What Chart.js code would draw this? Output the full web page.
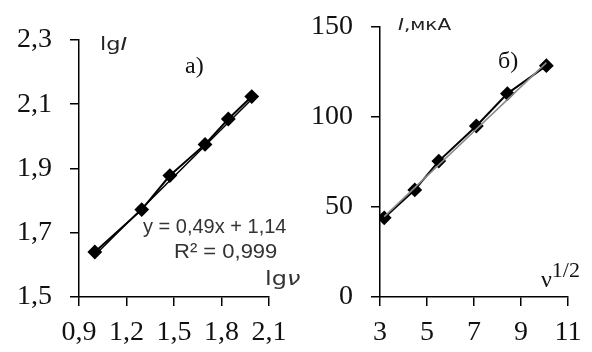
<!DOCTYPE html>
<html>
<head>
<meta charset="utf-8">
<script src="https://cdn.jsdelivr.net/npm/chart.js@4"></script>
<style>
  html, body { margin: 0; padding: 0; background: #fff; }
  #wrap { position: relative; width: 592px; height: 352px; overflow: hidden; background: #fff; }
  canvas { position: absolute; top: 0; }
  #chartA { left: 0; }
  #chartB { left: 300px; }
</style>
</head>
<body>
<div id="wrap">
  <canvas id="chartA" width="310" height="352"></canvas>
  <canvas id="chartB" width="292" height="352"></canvas>
</div>
<script>
// a) lg I vs lg v
const lgV = [1.0, 1.296, 1.474, 1.696, 1.843, 1.991];
const lgI = [1.64, 1.772, 1.878, 1.975, 2.054, 2.124];
const slopeA = 0.49;
const interceptA = 1.14;
const rSquaredA = 0.999;
const xTicksA = [0.9, 1.2, 1.5, 1.8, 2.1];
const yTicksA = [1.5, 1.7, 1.9, 2.1, 2.3];

// б) I vs v^1/2
const sqrtV = [3.18, 4.48, 5.5, 7.1, 8.42, 10.08];
const currentI = [44, 59.5, 75.5, 95, 113, 128.5];
const slopeB = 12.4;
const interceptB = 5.2;
const xTicksB = [3, 5, 7, 9, 11];
const yTicksB = [0, 50, 100, 150];

const serif = '"Liberation Serif", "Times New Roman", serif';
const sans = '"Liberation Sans", Arial, sans-serif';
const wide = '"DejaVu Sans", Verdana, sans-serif';
const comma = v => String(v).replace('.', ',');

function axis(pos, min, max, ticks, size) {
  return {
    type: 'linear',
    position: pos,
    min: min,
    max: max,
    afterBuildTicks: s => { s.ticks = ticks.map(v => ({ value: v })); },
    afterFit: s => {
      if (pos === 'left') {
        s.width = size;
        // label padding should not push the plot area down
        s.paddingTop = 0;
        s.paddingBottom = 0;
      } else {
        s.height = size;
      }
    },
    ticks: {
      color: '#111',
      font: { family: serif, size: 28 },
      padding: pos === 'left' ? 18 : 10,
      autoSkip: false,
      maxRotation: 0,
      callback: v => comma(v)
    },
    grid: { drawOnChartArea: false, drawTicks: true, tickLength: 9, color: '#000', lineWidth: 1.5 },
    border: { display: true, color: '#000', width: 1.5 }
  };
}

// free text (axis names, panel letters, trendline equation)
function notes(items) {
  return {
    id: 'notes',
    afterDraw(chart) {
      const c = chart.ctx;
      items.forEach(item => {
        const sx = item.sx || 1;
        let x = 0;
        c.save();
        c.translate(item.x, item.y);
        c.scale(sx, 1);
        item.parts.forEach(p => {
          c.font = p.font;
          c.fillStyle = p.color || '#111';
          c.textAlign = 'left';
          c.textBaseline = 'alphabetic';
          c.fillText(p.text, x, p.dy || 0);
          x += c.measureText(p.text).width;
        });
        c.restore();
      });
    }
  };
}

function points(xs, ys) {
  return xs.map((x, i) => ({ x: x, y: ys[i] }));
}

function trend(xs, k, b) {
  const x0 = xs[0], x1 = xs[xs.length - 1];
  return [{ x: x0, y: k * x0 + b }, { x: x1, y: k * x1 + b }];
}

function makeChart(id, data, trendData, trendColor, scales, padding, extra) {
  return new Chart(document.getElementById(id), {
    type: 'scatter',
    data: {
      datasets: [{
        data: trendData,
        showLine: true,
        borderColor: trendColor,
        borderWidth: 1.5,
        pointRadius: 0
      }, {
        data: data,
        showLine: true,
        borderColor: '#000',
        borderWidth: 2,
        pointStyle: 'rectRot',
        pointRadius: 6,
        pointBackgroundColor: '#000',
        pointBorderColor: '#000'
      }]
    },
    options: {
      responsive: false,
      animation: false,
      layout: { padding: padding },
      scales: scales,
      plugins: { legend: { display: false }, tooltip: { enabled: false } }
    },
    plugins: [notes(extra)]
  });
}

makeChart('chartA', points(lgV, lgI), trend(lgV, slopeA, interceptA), '#000', {
  x: axis('bottom', 0.9, 2.1, xTicksA, 55),
  y: axis('left', 1.5, 2.3, yTicksA, 79)
}, { left: 0, top: 40, right: 41, bottom: 0 }, [
  { x: 100, y: 50, sx: 1.25, parts: [{ text: 'lg', font: '18px ' + wide, color: '#222' }, { text: 'I', font: 'italic 18px ' + wide, color: '#222' }] },
  { x: 185, y: 73, parts: [{ text: 'a)', font: '24px ' + serif }] },
  { x: 143, y: 233, parts: [{ text: 'y = ' + comma(slopeA) + 'x + ' + comma(interceptA), font: '20px ' + sans, color: '#333' }] },
  { x: 174, y: 258, sx: 1.1, parts: [{ text: 'R² = ' + comma(rSquaredA), font: '20px ' + sans, color: '#333' }] },
  { x: 265, y: 285, sx: 1.2, parts: [{ text: 'lg', font: '20px ' + wide, color: '#333' }, { text: 'ν', font: 'italic 20px ' + wide, color: '#333' }] }
]);

makeChart('chartB', points(sqrtV, currentI), trend(sqrtV, slopeB, interceptB), '#8a8a8a', {
  x: axis('bottom', 3, 11, xTicksB, 55),
  y: axis('left', 0, 150, yTicksB, 80)
}, { left: 0, top: 27, right: 24, bottom: 0 }, [
  { x: 98, y: 30, sx: 1.25, parts: [{ text: 'I', font: 'italic 16px ' + wide, color: '#222' }, { text: ',мкА', font: '16px ' + wide, color: '#222' }] },
  { x: 198, y: 68, parts: [{ text: 'б)', font: '24px ' + serif }] },
  { x: 241, y: 287, parts: [{ text: 'ν', font: '24px ' + serif }, { text: '1/2', font: '22px ' + serif, dy: -10 }] }
]);
</script>
</body>
</html>
